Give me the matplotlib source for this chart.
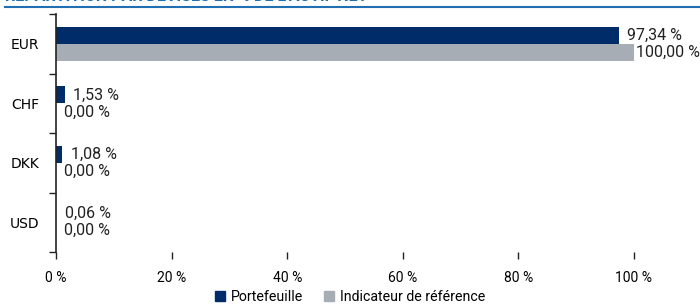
import matplotlib.pyplot as plt
import numpy as np
from matplotlib.lines import Line2D
from matplotlib.patches import Patch

currencies = ['EUR', 'CHF', 'DKK', 'USD']
portefeuille = [97.34, 1.53, 1.08, 0.06]
indicateur = [100.00, 0.00, 0.00, 0.00]
xticks = [0, 20, 40, 60, 80, 100]

navy = '#002d6a'
grey = '#a6adb4'
title_blue = '#1f6fb2'

plt.rcParams['font.family'] = ['Roboto', 'DejaVu Sans']

fig = plt.figure(figsize=(7, 3.07), dpi=100)
ax = fig.add_axes([0.08, 0.179, 0.8257, 0.775])

y = np.arange(len(currencies))
h = 0.286
ax.barh(y - h / 2, portefeuille, height=h, color=navy, label='Portefeuille')
ax.barh(y + h / 2, indicateur, height=h, color=grey, label='Indicateur de référence')

def fmt(v):
    return f'{v:.2f}'.replace('.', ',') + ' %'

for i in range(len(currencies)):
    ax.annotate(fmt(portefeuille[i]), (portefeuille[i], y[i] - h / 2),
                xytext=(6, 0), textcoords='offset points',
                va='center', ha='left', fontsize=11.5, color='#222222')
    off = 1.5 if indicateur[i] >= 99.5 else 6
    ax.annotate(fmt(indicateur[i]), (indicateur[i], y[i] + h / 2),
                xytext=(off, 0), textcoords='offset points',
                va='center', ha='left', fontsize=11.5, color='#222222')

ax.set_ylim(len(currencies) - 0.5, -0.5)
ax.set_xlim(0, 100)
ax.set_yticks(y)
ax.set_yticklabels(currencies, fontsize=10, family='DejaVu Sans')
ax.set_yticks(np.arange(-0.5, len(currencies)), minor=True)
ax.tick_params(axis='y', which='major', length=0, pad=12)
ax.tick_params(axis='y', which='minor', length=5, width=1, color='#222222')
ax.set_xticks(xticks)
ax.set_xticklabels([f'{t} %' for t in xticks], fontsize=10)
ax.tick_params(axis='x', length=5, width=1, pad=9, color='#222222')

for s in ['top', 'right', 'bottom']:
    ax.spines[s].set_visible(False)
ax.spines['left'].set_linewidth(1.2)
ax.spines['left'].set_color('#222222')

fig.text(0.007, 0.997, "RÉPARTITION PAR DEVISES EN % DE L'ACTIF NET",
         fontsize=11.5, fontweight='bold', color=title_blue, va='baseline')
fig.add_artist(Line2D([0.007, 1.0], [1 - 7 / 307, 1 - 7 / 307],
                      color=title_blue, linewidth=1.5, transform=fig.transFigure))

handles = [Patch(color=navy), Patch(color=grey)]
fig.legend(handles, ['Portefeuille', 'Indicateur de référence'],
           loc='center', bbox_to_anchor=(0.5, 0.033), ncol=2, frameon=False,
           fontsize=10.2, handlelength=0.7, handleheight=0.7, handletextpad=0.4,
           columnspacing=1.5, borderaxespad=0)

fig.savefig('out.png', dpi=100)
